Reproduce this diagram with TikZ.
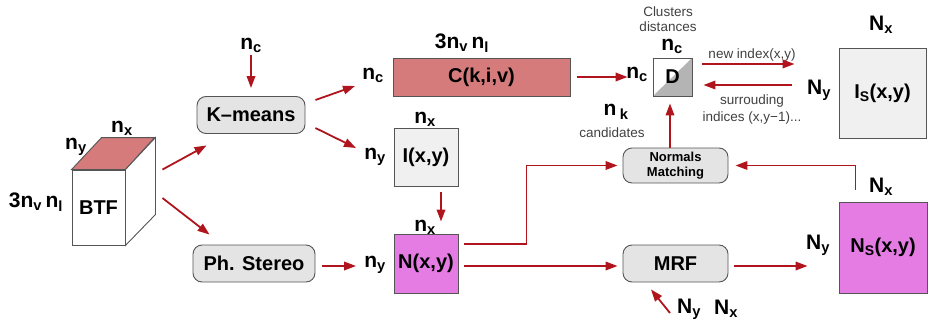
\documentclass[tikz,border=0pt]{standalone}
\usepackage{fontspec}
\setmainfont{Liberation Sans}
\usetikzlibrary{arrows.meta}
\definecolor{arrred}{HTML}{B0141C}
\definecolor{cfill}{HTML}{D67B7B}
\definecolor{mfill}{HTML}{E47CE4}
\definecolor{gfill}{HTML}{E4E4E4}
\definecolor{lfill}{HTML}{F0F0F0}
\definecolor{dtri}{HTML}{B4B4B4}
\definecolor{edgec}{HTML}{555555}
\newcommand\sbx[1]{\textsubscript{#1}}
\begin{document}
\begin{tikzpicture}[x=1pt,y=-1pt,
 arr/.style={draw=arrred, line width=1.8pt, -{Triangle[length=12pt,width=8.5pt]}},
 proc/.style={draw=edgec, fill=gfill, rounded corners=9pt, line width=0.9pt, inner sep=0pt},
 mbox/.style={draw=edgec, line width=0.9pt, inner sep=0pt},
 lab/.style={font=\fontsize{21}{23}\selectfont\bfseries, inner sep=0pt},
 small/.style={font=\fontsize{13.5}{15}\selectfont, inner sep=0pt, text=black!75},
 big/.style={font=\fontsize{20}{22}\selectfont\bfseries}]
\useasboundingbox (0,0) rectangle (928,324);

% BTF cube
\node[mbox, fill=white, minimum width=53, minimum height=75, big] (btf) at (98.5,207.5) {BTF};
\draw[draw=edgec, fill=cfill, line width=0.9pt] (btf.north west) -- ++(30,-32) -- ++(53,0) -- (btf.north east) -- cycle;
\draw[draw=edgec, fill=white, line width=0.9pt] (btf.north east) -- ++(30,-32) -- ++(0,77) -- (btf.south east) -- cycle;
\node[lab] at (36,202) {3n\sbx{v}\,n\sbx{l}};
\node[lab] at (76,147) {n\sbx{y}};
\node[lab] at (122,128) {n\sbx{x}};

% processes
\node[proc, minimum width=108, minimum height=37, big] (km) at (251,115) {K–means};
\node[lab] (kmnc) at (251,45) {n\sbx{c}};
\node[proc, minimum width=122, minimum height=37, big] (ps) at (254,263.5) {Ph. Stereo};
\node[proc, minimum width=105, minimum height=35, align=center, font=\fontsize{13}{15}\selectfont\bfseries] (nm) at (675.5,165.5) {Normals\\Matching};
\node[proc, minimum width=105, minimum height=37, big] (mrf) at (675.5,263.5) {MRF};

% C
\node[mbox, fill=cfill, minimum width=177, minimum height=38, big] (C) at (481.5,77) {C(k,i,v)};
\node[lab] (Cnc) at (373,75) {n\sbx{c}};
\node[lab] at (462,43) {3n\sbx{v}\,n\sbx{l}};

% I
\node[mbox, fill=lfill, minimum width=64, minimum height=58, big] (I) at (426,157) {I(x,y)};
\node[lab] (Iny) at (375,157) {n\sbx{y}};
\node[lab] at (425,119) {n\sbx{x}};

% N
\node[mbox, fill=mfill, minimum width=64, minimum height=59, big] (N) at (426,263.5) {N(x,y)};
\node[lab] (Nny) at (375,265) {n\sbx{y}};
\node[lab] at (425,227) {n\sbx{x}};

% D
\node[mbox, fill=white, minimum width=39, minimum height=38, big,
  path picture={\fill[dtri] (path picture bounding box.north east) -- (path picture bounding box.south east) -- (path picture bounding box.south west) -- cycle;}] (D) at (672.5,77) {D};
\node[lab] at (672,46) {n\sbx{c}};
\node[lab] (Dnc) at (637,74) {n\sbx{c}};
\node[small] at (668,12) {Clusters};
\node[small] at (668,27) {distances};
\node[lab] at (616,112) {n\,\sbx{k}};
\node[small] at (612,133) {candidates};
\node[small] at (752,55) {new index(x,y)};
\node[small] at (752,101) {surrouding};
\node[small] at (752,118) {indices (x,y−1)...};

% I_S
\node[mbox, fill=lfill, minimum width=87, minimum height=90, big] (IS) at (882.5,93) {I\sbx{S}(x,y)};
\node[lab] at (881,25) {N\sbx{x}};
\node[lab] at (819,90) {N\sbx{y}};

% N_S
\node[mbox, fill=mfill, minimum width=88, minimum height=91, big] (NS) at (883,247.5) {N\sbx{S}(x,y)};
\node[lab] at (881,187) {N\sbx{x}};
\node[lab] at (818,245) {N\sbx{y}};

% MRF inputs
\node[lab] (mNy) at (689,309) {N\sbx{y}};
\node[lab] (mNx) at (726,309) {N\sbx{x}};

% arrows
\draw[arr] ([shift={(37pt,0pt)}]btf.north east) -- ([shift={(10pt,-11.5pt)}]km.south west);
\draw[arr] ([shift={(37pt,9.5pt)}]btf.east) -- ([shift={(17pt,10pt)}]ps.north west);
\draw[arr, shorten <=3pt, shorten >=8pt] (kmnc) -- (km.north);
\draw[arr] ([shift={(10pt,15pt)}]km.east) -- ([shift={(-18pt,-11pt)}]Cnc.center);
\draw[arr] ([shift={(10pt,-13pt)}]km.east) -- ([shift={(-19pt,9pt)}]Iny.center);
\draw[arr, shorten <=7pt, shorten >=8pt] ([yshift=-2.5pt]ps.east) -- ([yshift=-2.5pt]ps.east -| Nny.west);
\draw[arr, shorten <=6pt, shorten >=12pt] ([xshift=15pt]I.south) -- ([xshift=15pt]N.north);
\draw[arr, shorten <=7pt, shorten >=25pt] (C.east) -- (D.west);
\draw[arr, shorten <=10pt, shorten >=44pt] ([yshift=13pt]D.east) -- ([yshift=13pt]D.east -| IS.west);
\draw[arr, shorten <=47pt, shorten >=11pt] ([yshift=-8pt]D.east -| IS.west) -- ([yshift=-8pt]D.east);
\draw[arr, shorten >=7pt] ([xshift=-2.5pt]D.south |- nm.north) -- ([xshift=-2.5pt]D.south);
\draw[arr, shorten <=6pt, shorten >=5pt] ([yshift=19.5pt]N.east) -- ++(68,0) |- (nm.west);
\draw[arr, shorten <=6pt, shorten >=5pt] ([yshift=-2.5pt]N.east) -- ([yshift=-2.5pt]N.east -| mrf.west);
\draw[arr, shorten <=6pt, shorten >=31pt] ([yshift=-2.5pt]mrf.east) -- ([yshift=-2.5pt]mrf.east -| NS.west);
\draw[arr, shorten >=7pt] ([shift={(17pt,12pt)}]NS.north west) |- (nm.east);
\draw[arr] ([shift={(-19pt,-4pt)}]mNy.center) -- ([shift={(-24.5pt,-7pt)}]mrf.south);
\end{tikzpicture}
\end{document}
